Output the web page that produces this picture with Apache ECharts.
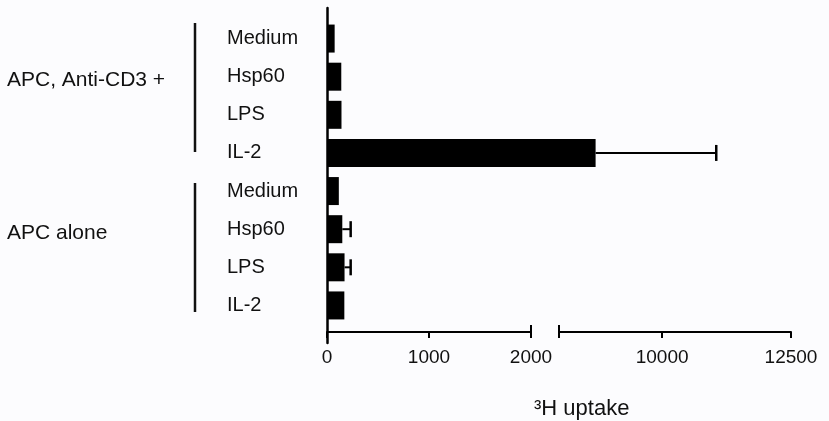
<!DOCTYPE html>
<html>
<head>
<meta charset="utf-8">
<script src="https://cdn.jsdelivr.net/npm/echarts@6/dist/echarts.min.js"></script>
<style>
  html, body { margin: 0; padding: 0; background: #fcfcfe; }
  #chart { width: 829px; height: 421px; }
</style>
</head>
<body>
<div id="chart"></div>
<script>
// ---- data ----
const categories = ['Medium', 'Hsp60', 'LPS', 'IL-2', 'Medium', 'Hsp60', 'LPS', 'IL-2'];
const groups = ['APC, Anti-CD3 +', 'APC alone'];
const means = [75, 140, 142, 8710, 116, 150, 172, 170];
const errHigh = [null, null, null, 11050, null, 232, 232, null];
const lowTicks = [0, 1000, 2000];
const highTicks = [10000, 12500];
const breakRange = [2000, 8000];
const axisTitle = '³H uptake';

// ---- layout ----
const FONT = 'Liberation Sans, Arial, Helvetica, sans-serif';
const INK = '#111';
const x0 = 327, lowW = 204, gapW = 28, highW = 232;
const lowMax = lowTicks[lowTicks.length - 1];
const highMax = highTicks[highTicks.length - 1];
const dataAMax = lowMax * (lowW + gapW) / lowW; // extend low scale through the gap
const highMin = breakRange[1];
const plain = v => String(v);

const errA = [], errB = [];
means.forEach((m, i) => {
  if (errHigh[i] == null) return;
  if (errHigh[i] <= dataAMax) errA.push([m, i, errHigh[i]]);
  if (m >= highMin) errB.push([m, i, errHigh[i]]);
});

function renderErr(params, api) {
  const m = api.value(0), c = api.value(1), hi = api.value(2);
  const p0 = api.coord([m, c]);
  const p1 = api.coord([hi, c]);
  return {
    type: 'group',
    children: [
      { type: 'line', shape: { x1: p0[0], y1: p0[1], x2: p1[0], y2: p1[1] }, style: { stroke: '#000', lineWidth: 2 } },
      { type: 'line', shape: { x1: p1[0], y1: p1[1] - 8, x2: p1[0], y2: p1[1] + 8 }, style: { stroke: '#000', lineWidth: 2.5 } }
    ]
  };
}

const chart = echarts.init(document.getElementById('chart'), null, { renderer: 'canvas' });
const gridBase = { outerBoundsMode: 'none', containLabel: false };
const option = {
  backgroundColor: '#fcfcfe',
  animation: false,
  title: {
    text: axisTitle,
    left: 534, top: 397, padding: 0,
    textStyle: { fontSize: 22, fontWeight: 'normal', fontFamily: FONT, color: INK, lineHeight: 24 }
  },
  grid: [
    Object.assign({ left: x0, top: 19.5, width: lowW + gapW, height: 305 }, gridBase),
    Object.assign({ left: x0 + lowW + gapW, top: 19.5, width: highW, height: 305 }, gridBase),
    Object.assign({ left: x0, top: 8, width: lowW, height: 324 }, gridBase),
    Object.assign({ left: x0 + lowW + gapW, top: 8, width: highW, height: 324 }, gridBase),
    Object.assign({ left: x0, top: 8, width: 10, height: 335 }, gridBase)
  ],
  xAxis: [
    { gridIndex: 0, type: 'value', min: 0, max: dataAMax, show: false },
    { gridIndex: 1, type: 'value', min: highMin, max: highMax, show: false },
    {
      gridIndex: 2, type: 'value', position: 'bottom', min: lowTicks[0], max: lowMax, interval: lowTicks[1] - lowTicks[0],
      axisLine: { show: true, lineStyle: { color: '#000', width: 2 } },
      axisTick: { show: true, length: 6, lineStyle: { color: '#000', width: 2 } },
      axisLabel: { show: true, margin: 16, fontSize: 19, fontFamily: FONT, color: INK, showMinLabel: true, showMaxLabel: true, formatter: plain },
      splitLine: { show: false }
    },
    {
      gridIndex: 2, type: 'value', position: 'bottom', min: lowTicks[0], max: lowMax,
      axisLine: { show: false },
      axisTick: { show: true, inside: true, length: 7, customValues: [breakRange[0]], lineStyle: { color: '#000', width: 2 } },
      axisLabel: { show: false }, splitLine: { show: false }
    },
    {
      gridIndex: 3, type: 'value', position: 'bottom', min: highMin, max: highMax,
      axisLine: { show: true, lineStyle: { color: '#000', width: 2 } },
      axisTick: { show: true, length: 6, customValues: [highMin].concat(highTicks), lineStyle: { color: '#000', width: 2 } },
      axisLabel: { show: true, margin: 16, fontSize: 19, fontFamily: FONT, color: INK, customValues: highTicks, formatter: plain },
      splitLine: { show: false }
    },
    {
      gridIndex: 3, type: 'value', position: 'bottom', min: highMin, max: highMax,
      axisLine: { show: false },
      axisTick: { show: true, inside: true, length: 7, customValues: [highMin], lineStyle: { color: '#000', width: 2 } },
      axisLabel: { show: false }, splitLine: { show: false }
    },
    { gridIndex: 4, type: 'value', show: false }
  ],
  yAxis: [
    {
      gridIndex: 0, type: 'category', position: 'left', data: categories, inverse: true,
      axisLine: { show: false }, axisTick: { show: false },
      axisLabel: { align: 'left', margin: x0 - 227, fontSize: 20, fontFamily: FONT, color: INK, interval: 0 }
    },
    {
      gridIndex: 0, type: 'category', position: 'left', data: groups, inverse: true,
      axisLine: { show: false }, axisTick: { show: false },
      axisLabel: { align: 'left', verticalAlign: 'bottom', lineHeight: 31, margin: x0 - 7, fontSize: 21, fontFamily: FONT, color: INK, interval: 0 }
    },
    { gridIndex: 1, type: 'category', position: 'left', data: categories, inverse: true, show: false },
    { gridIndex: 2, type: 'value', show: false },
    { gridIndex: 3, type: 'value', show: false },
    {
      gridIndex: 4, type: 'value', position: 'left', min: 0, max: 1,
      axisLine: { show: true, lineStyle: { color: '#000', width: 2.5 } },
      axisTick: { show: false }, axisLabel: { show: false }, splitLine: { show: false }
    }
  ],
  graphic: [
    { type: 'line', silent: true, shape: { x1: 195, y1: 23, x2: 195, y2: 152 }, style: { stroke: INK, lineWidth: 2.5 } },
    { type: 'line', silent: true, shape: { x1: 195, y1: 183, x2: 195, y2: 312 }, style: { stroke: INK, lineWidth: 2.5 } }
  ],
  series: [
    { type: 'bar', xAxisIndex: 0, yAxisIndex: 0, data: means, barWidth: 28, itemStyle: { color: '#000' }, silent: true },
    { type: 'bar', xAxisIndex: 1, yAxisIndex: 2, data: means.map(v => v >= highMin ? v : '-'), barWidth: 28, itemStyle: { color: '#000' }, silent: true },
    { type: 'custom', xAxisIndex: 0, yAxisIndex: 0, data: errA, encode: { x: [0, 2], y: 1 }, renderItem: renderErr, silent: true },
    { type: 'custom', xAxisIndex: 1, yAxisIndex: 2, data: errB, encode: { x: [0, 2], y: 1 }, renderItem: renderErr, silent: true }
  ]
};
chart.setOption(option);
</script>
</body>
</html>
